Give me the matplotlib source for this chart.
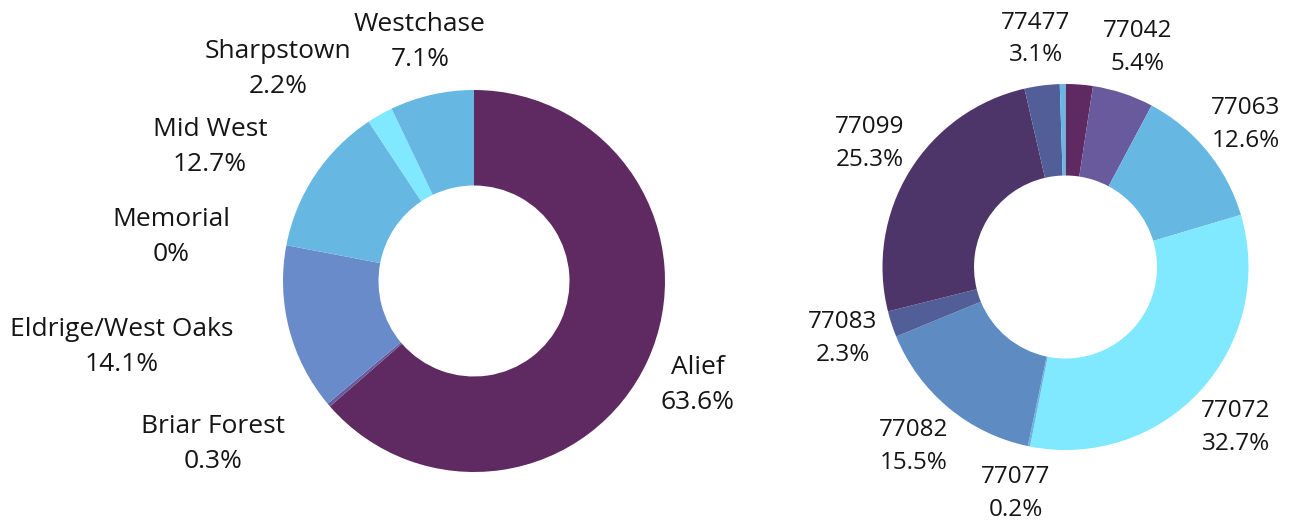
import matplotlib
matplotlib.use("Agg")
import matplotlib.pyplot as plt

plt.rcParams['font.family'] = ['Open Sans', 'DejaVu Sans']

# ---- data ----
left_labels = ["Alief", "Briar Forest", "Eldrige/West Oaks", "Memorial", "Mid West", "Sharpstown", "Westchase"]
left_values = [63.6, 0.3, 14.1, 0.0, 12.7, 2.2, 7.1]
left_colors = ["#5E2A61", "#685A9C", "#6A8BC9", "#6A8BC9", "#67B7E3", "#80E8FF", "#67B7E3"]

right_labels = ["", "77042", "77063", "77072", "77077", "77082", "77083", "77099", "77477", ""]
right_values = [2.4, 5.4, 12.6, 32.7, 0.2, 15.5, 2.3, 25.3, 3.1, 0.5]
right_colors = ["#5E2A61", "#685A9C", "#67B7E3", "#80E8FF", "#67B7E3", "#5E8CC2",
                "#525E98", "#4E3569", "#525E98", "#67B7E3"]

# label anchor positions (pixels in the 1291x525 canvas)
left_label_px = [(698, 385), (213, 444), (122, 347), (171, 237), (210, 147), (278, 69), (420, 42)]
right_label_px = [None, (1138, 47.5), (1246, 124.5), (1236, 427.5), (1016, 493.5), (914, 446.5),
                  (843, 338.5), (870, 143.5), (1036, 39), None]

W, H = 1291, 525
fig = plt.figure(figsize=(W / 100, H / 100), dpi=100)


def donut(cx, cy, R, values, colors, labels, label_px, fs, ls):
    ax = fig.add_axes([(cx - R) / W, (H - cy - R) / H, 2 * R / W, 2 * R / H])
    ax.pie(values, colors=colors, startangle=90, counterclock=False, radius=1,
           wedgeprops=dict(width=0.5, edgecolor='none', linewidth=0))
    ax.set_xlim(-1, 1)
    ax.set_ylim(-1, 1)
    ax.set_aspect('equal')
    ax.axis('off')
    for lab, v, p in zip(labels, values, label_px):
        if p is None or lab == "":
            continue
        x = (p[0] - cx) / R
        y = (cy - p[1]) / R
        txt = f"{lab}\n{v:g}%"
        ax.text(x, y, txt, ha='center', va='center', fontsize=fs, color='#151515',
                linespacing=ls, clip_on=False)
    return ax


donut(474, 281, 191, left_values, left_colors, left_labels, left_label_px, 19, 1.5)
donut(1065.5, 267, 183, right_values, right_colors, right_labels, right_label_px, 17.5, 1.46)

fig.savefig("out.png", dpi=100)
